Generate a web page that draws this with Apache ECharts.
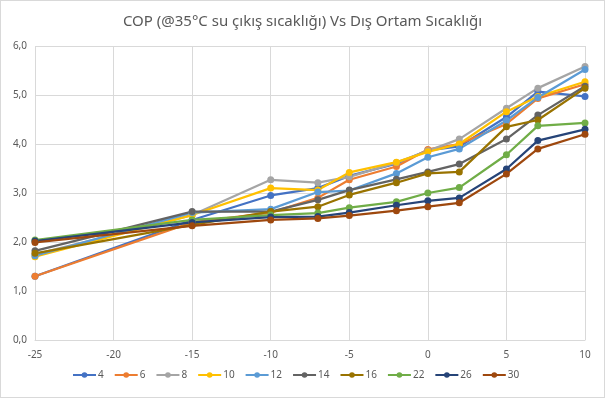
<!DOCTYPE html>
<html>
<head>
<meta charset="utf-8">
<script src="https://cdn.jsdelivr.net/npm/echarts@6/dist/echarts.min.js"></script>
<style>
  html,body{margin:0;padding:0;background:#fff;}
  #chart{width:603px;height:396px;border:1px solid #d9d9d9;}
</style>
</head>
<body>
<div id="chart"></div>
<script>
// dış ortam sıcaklığı (x)
const temps = [-25, -15, -10, -7, -5, -2, 0, 2, 5, 7, 10]

const names = ['4', '6', '8', '10', '12', '14', '16', '22', '26', '30']
const colors = ['#4472c4', '#ed7d31', '#a5a5a5', '#ffc000', '#5b9bd5', '#636363', '#997300', '#70ad47', '#264478', '#9e480e']

const s4  = [1.30, 2.45, 2.95, 3.10, 3.35, 3.60, 3.87, 3.95, 4.55, 5.07, 4.97]
const s6  = [1.30, 2.40, 2.60, 2.90, 3.27, 3.54, 3.89, 4.00, 4.41, 4.93, 5.22]
const s8  = [1.75, 2.55, 3.27, 3.21, 3.33, 3.62, 3.86, 4.10, 4.73, 5.14, 5.58]
const s10 = [1.70, 2.55, 3.10, 3.06, 3.42, 3.63, 3.84, 4.00, 4.66, 4.97, 5.27]
const s12 = [1.72, 2.60, 2.67, 3.02, 3.05, 3.40, 3.73, 3.90, 4.48, 4.95, 5.52]
const s14 = [1.82, 2.62, 2.62, 2.86, 3.06, 3.28, 3.43, 3.59, 4.10, 4.59, 5.18]
const s16 = [1.77, 2.35, 2.62, 2.72, 2.96, 3.21, 3.40, 3.43, 4.35, 4.49, 5.14]
const s22 = [2.04, 2.45, 2.55, 2.59, 2.70, 2.82, 3.00, 3.11, 3.78, 4.37, 4.43]
const s26 = [2.02, 2.40, 2.51, 2.52, 2.60, 2.75, 2.84, 2.90, 3.49, 4.07, 4.30]
const s30 = [1.99, 2.33, 2.45, 2.48, 2.54, 2.64, 2.72, 2.80, 3.39, 3.90, 4.20]

const allData = [s4, s6, s8, s10, s12, s14, s16, s22, s26, s30]

const myChart = echarts.init(document.getElementById('chart'))

const series = names.map((n, i) => {
  return {
    name: n,
    type: 'line',
    data: temps.map((t, j) => [t, allData[i][j]]),
    symbol: 'circle',
    symbolSize: 7,
    lineStyle: { width: 2.25, color: colors[i] },
    itemStyle: { color: colors[i] }
  }
})

const option = {
  animation: false,
  textStyle: { fontFamily: 'Noto Sans, Liberation Sans, sans-serif' },
  title: {
    text: 'COP (@35°C su çıkış sıcaklığı) Vs Dış Ortam Sıcaklığı',
    left: 'center',
    top: 8,
    textStyle: { fontSize: 15, fontWeight: 'normal', color: '#595959' }
  },
  color: colors,
  grid: { left: 34, right: 19, top: 45, bottom: 57 },
  legend: {
    bottom: 12,
    left: 66,
    itemWidth: 23,
    itemHeight: 7,
    itemGap: 10,
    textStyle: { fontSize: 10, color: '#595959', padding: [0, 0, 0, -3] }
  },
  xAxis: {
    type: 'value',
    min: -25,
    max: 10,
    interval: 5,
    axisLine: { show: true, lineStyle: { color: '#d9d9d9' } },
    axisTick: { show: false },
    axisLabel: { color: '#595959', fontSize: 10, margin: 10 },
    splitLine: { show: true, lineStyle: { color: '#d9d9d9' } }
  },
  yAxis: {
    type: 'value',
    min: 0,
    max: 6,
    interval: 1,
    axisLine: { show: true, lineStyle: { color: '#d9d9d9' } },
    axisTick: { show: false },
    axisLabel: {
      color: '#595959',
      fontSize: 10,
      margin: 8,
      formatter: v => v.toFixed(1).replace('.', ',')
    },
    splitLine: { show: true, lineStyle: { color: '#d9d9d9' } }
  },
  series: series
}

myChart.setOption(option)
</script>
</body>
</html>
